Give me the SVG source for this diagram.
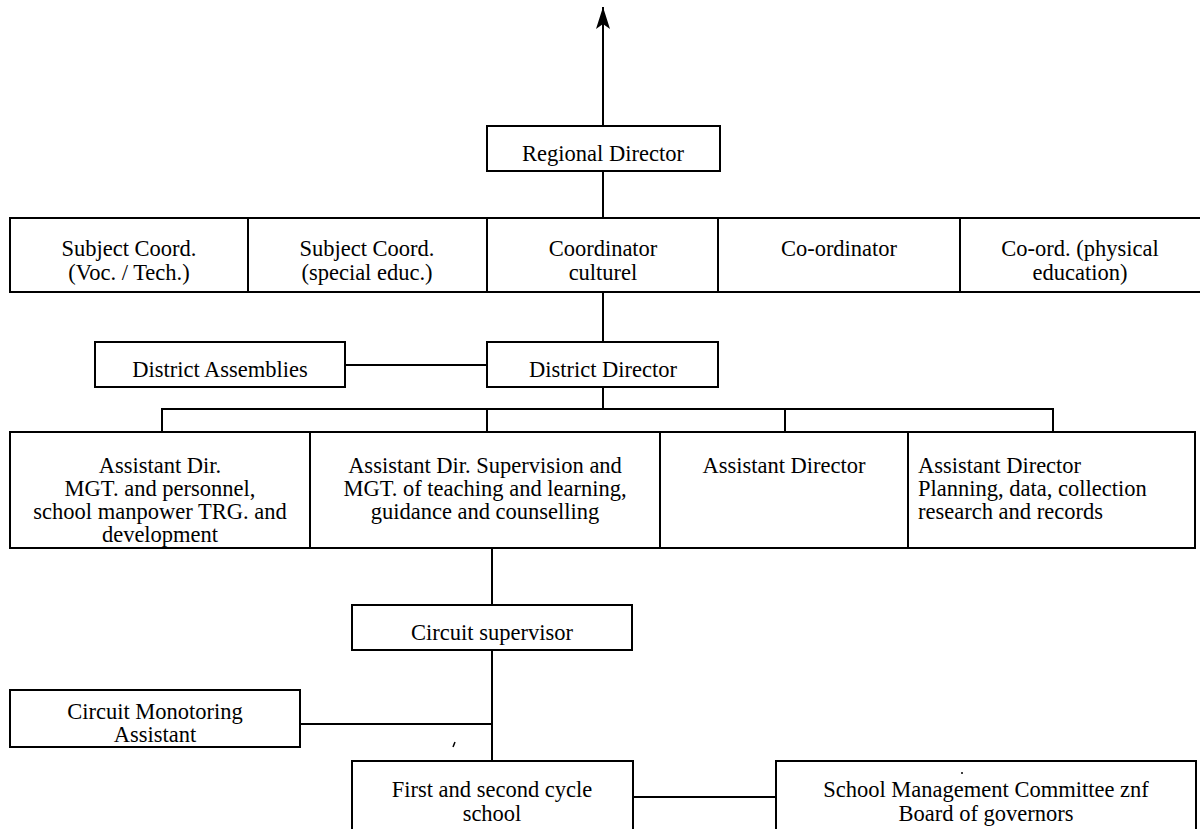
<svg xmlns="http://www.w3.org/2000/svg" width="1200" height="829" viewBox="0 0 1200 829">
  <style>
    .box { fill: #ffffff; stroke: #000000; stroke-width: 2; }
    .lbl { font-family: "Liberation Serif", "Times New Roman", serif; font-size: 22.5px; fill: #000000; text-anchor: middle; }
    .left { text-anchor: start; }
    .wire { fill: none; stroke: #000000; stroke-width: 2; }
  </style>
  <defs>
    <!-- arrowhead drawn along +x so orient="auto" turns it with the line -->
    <marker id="arrowhead" viewBox="0 0 22 14" refX="22" refY="7" markerWidth="22" markerHeight="14" markerUnits="userSpaceOnUse" orient="auto">
      <path d="M22,7 L0,0 L5,7 L0,14 Z" fill="#000000"/>
    </marker>
  </defs>
  <rect width="1200" height="829" fill="#ffffff"/>

  <!-- connectors -->
  <g id="connectors">
    <line class="wire" x1="603" y1="126" x2="603" y2="7" marker-end="url(#arrowhead)"/>
    <line class="wire" x1="603" y1="171" x2="603" y2="218"/>
    <line class="wire" x1="603" y1="292" x2="603" y2="342"/>
    <line class="wire" x1="345" y1="365" x2="487" y2="365"/>
    <line class="wire" x1="603" y1="387" x2="603" y2="409"/>
    <polyline class="wire" points="162,432 162,409 1053,409 1053,432"/>
    <line class="wire" x1="487" y1="409" x2="487" y2="432"/>
    <line class="wire" x1="785" y1="409" x2="785" y2="432"/>
    <line class="wire" x1="492" y1="548" x2="492" y2="605"/>
    <line class="wire" x1="492" y1="650" x2="492" y2="761"/>
    <line class="wire" x1="300" y1="724" x2="492" y2="724"/>
    <line class="wire" x1="633" y1="797" x2="776" y2="797"/>
  </g>

  <g id="regional-director">
    <rect class="box" x="487" y="126" width="233" height="45"/>
    <text class="lbl" x="603" y="161">Regional Director</text>
  </g>

  <g id="subject-coord-voc">
    <rect class="box" x="10" y="218" width="238" height="74"/>
    <text class="lbl" x="129" y="256">Subject Coord.</text>
    <text class="lbl" x="129" y="280">(Voc. / Tech.)</text>
  </g>
  <g id="subject-coord-special">
    <rect class="box" x="248" y="218" width="239" height="74"/>
    <text class="lbl" x="367" y="256">Subject Coord.</text>
    <text class="lbl" x="367" y="280">(special educ.)</text>
  </g>
  <g id="coordinator-culturel">
    <rect class="box" x="487" y="218" width="231" height="74"/>
    <text class="lbl" x="603" y="256">Coordinator</text>
    <text class="lbl" x="603" y="280">culturel</text>
  </g>
  <g id="co-ordinator">
    <rect class="box" x="718" y="218" width="242" height="74"/>
    <text class="lbl" x="839" y="256">Co-ordinator</text>
  </g>
  <g id="co-ord-physical">
    <rect class="box" x="960" y="218" width="242" height="74"/>
    <text class="lbl" x="1080" y="256">Co-ord. (physical</text>
    <text class="lbl" x="1080" y="280">education)</text>
  </g>

  <g id="district-assemblies">
    <rect class="box" x="95" y="342" width="250" height="45"/>
    <text class="lbl" x="220" y="377">District Assemblies</text>
  </g>
  <g id="district-director">
    <rect class="box" x="487" y="342" width="231" height="45"/>
    <text class="lbl" x="603" y="377">District Director</text>
  </g>

  <g id="asst-dir-personnel">
    <rect class="box" x="10" y="432" width="300" height="116"/>
    <text class="lbl" x="160" y="473">Assistant Dir.</text>
    <text class="lbl" x="160" y="496">MGT. and personnel,</text>
    <text class="lbl" x="160" y="519">school manpower TRG. and</text>
    <text class="lbl" x="160" y="542">development</text>
  </g>
  <g id="asst-dir-supervision">
    <rect class="box" x="310" y="432" width="350" height="116"/>
    <text class="lbl" x="485" y="473">Assistant Dir. Supervision and</text>
    <text class="lbl" x="485" y="496">MGT. of teaching and learning,</text>
    <text class="lbl" x="485" y="519">guidance and counselling</text>
  </g>
  <g id="asst-director">
    <rect class="box" x="660" y="432" width="248" height="116"/>
    <text class="lbl" x="784" y="473">Assistant Director</text>
  </g>
  <g id="asst-dir-planning">
    <rect class="box" x="908" y="432" width="287" height="116"/>
    <text class="lbl left" x="918" y="473">Assistant Director</text>
    <text class="lbl left" x="918" y="496">Planning, data, collection</text>
    <text class="lbl left" x="918" y="519">research and records</text>
  </g>

  <g id="circuit-supervisor">
    <rect class="box" x="352" y="605" width="280" height="45"/>
    <text class="lbl" x="492" y="640">Circuit supervisor</text>
  </g>
  <g id="circuit-monitoring-assistant">
    <rect class="box" x="10" y="690" width="290" height="57"/>
    <text class="lbl" x="155" y="719">Circuit Monotoring</text>
    <text class="lbl" x="155" y="742">Assistant</text>
  </g>

  <!-- small pen stroke beside the circuit line -->
  <line x1="453" y1="747" x2="455" y2="742" stroke="#000000" stroke-width="1.5"/>

  <g id="first-second-cycle-school">
    <rect class="box" x="352" y="761" width="281" height="80"/>
    <text class="lbl" x="492" y="797">First and second cycle</text>
    <text class="lbl" x="492" y="821">school</text>
  </g>
  <g id="school-management-committee">
    <rect class="box" x="776" y="761" width="420" height="80"/>
    <circle cx="962" cy="773" r="1" fill="#000000"/>
    <text class="lbl" x="986" y="797">School Management Committee znf</text>
    <text class="lbl" x="986" y="821">Board of governors</text>
  </g>
</svg>
